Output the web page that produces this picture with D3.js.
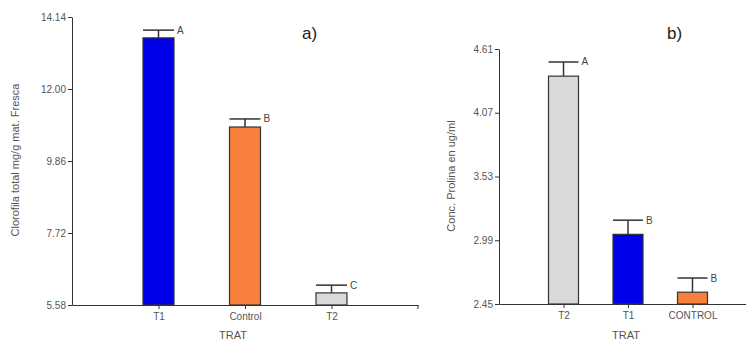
<!DOCTYPE html>
<html><head><meta charset="utf-8">
<script src="https://cdn.jsdelivr.net/npm/d3@7"></script>
<style>body{margin:0;background:#fff}svg{display:block;font-family:"Liberation Sans",Arial,sans-serif}</style>
</head><body><svg id="c" width="746" height="341"></svg>
<script>
// Panel a data
const catsA = ["T1", "Control", "T2"];
const valsA = [13.52, 10.87, 5.94];
const errA = [0.23, 0.24, 0.23];
const lettersA = ["A", "B", "C"];
const ticksA = [5.58, 7.72, 9.86, 12.00, 14.14];
const colorsA = ["#0000e8", "#f7803d", "#d9d9d9"];
// Panel b data
const catsB = ["T2", "T1", "CONTROL"];
const valsB = [4.38, 3.04, 2.55];
const errB = [0.12, 0.12, 0.12];
const lettersB = ["A", "B", "B"];
const ticksB = [2.45, 2.99, 3.53, 4.07, 4.61];
const colorsB = ["#d9d9d9", "#0000e8", "#f7803d"];

const svg = d3.select("#c");
const txt = "#555";

function panel(o) {
  const g = svg.append("g");
  const y = d3.scaleLinear().domain([o.ticks[0], o.ticks[o.ticks.length - 1]]).range([o.y0, o.y1]);
  const x = d3.scalePoint().domain(o.cats).range([o.x0, o.x1]).padding(1);
  // y axis
  const ya = g.append("g").attr("transform", `translate(${o.x0},0)`)
    .call(d3.axisLeft(y).tickValues(o.ticks).tickFormat(d3.format(".2f")).tickSize(4).tickSizeOuter(0).tickPadding(2));
  // x axis
  const xa = g.append("g").attr("transform", `translate(0,${o.y0})`)
    .call(d3.axisBottom(x).tickSize(4).tickSizeOuter(0).tickPadding(4));
  [ya, xa].forEach(a => {
    a.selectAll("path,line").attr("stroke", "#333").attr("stroke-width", 1);
    a.selectAll("text").attr("fill", txt).attr("font-size", 10);
  });
  if (o.endTick) {
    g.append("line").attr("x1", o.x1).attr("x2", o.x1).attr("y1", o.y0).attr("y2", o.y0 + 4).attr("stroke", "#333");
  }
  const bw = o.bw;
  const bars = g.append("g");
  o.cats.forEach((c, i) => {
    const cx = x(c);
    const top = y(o.vals[i]);
    const et = y(o.vals[i] + o.err[i]);
    bars.append("line").attr("x1", cx).attr("x2", cx).attr("y1", top).attr("y2", et).attr("stroke", "#333").attr("stroke-width", 1.5);
    bars.append("line").attr("x1", cx - bw / 2).attr("x2", cx + bw / 2).attr("y1", et).attr("y2", et).attr("stroke", "#333").attr("stroke-width", 1.5);
    bars.append("rect").attr("x", cx - bw / 2).attr("y", top).attr("width", bw).attr("height", o.y0 - top)
      .attr("fill", o.colors[i]).attr("stroke", "#333").attr("stroke-width", 1.2);
    bars.append("text").attr("x", cx + bw / 2 + 3).attr("y", et + 3.5).attr("font-size", 10).attr("fill", "#444").text(o.letters[i]);
  });
  // y label
  g.append("text").attr("transform", `translate(${o.ylx},${o.yly}) rotate(-90)`).attr("text-anchor", "middle")
    .attr("font-size", 11).attr("fill", txt).text(o.ylabel);
  // x label
  g.append("text").attr("x", o.xlx).attr("y", 339).attr("text-anchor", "middle").attr("font-size", 11).attr("fill", txt).text("TRAT");
  // panel tag
  g.append("text").attr("x", o.tagx).attr("y", 39).attr("font-size", 17).attr("fill", "#222").text(o.tag);
}

panel({cats: catsA, vals: valsA, err: errA, letters: lettersA, ticks: ticksA, colors: colorsA,
  x0: 72, x1: 418, y0: 305, y1: 17, bw: 31, endTick: true,
  ylabel: "Clorofila total mg/g mat. Fresca", ylx: 19, yly: 160, xlx: 233, tag: "a)", tagx: 302});
panel({cats: catsB, vals: valsB, err: errB, letters: lettersB, ticks: ticksB, colors: colorsB,
  x0: 499, x1: 757, y0: 304, y1: 49, bw: 30, endTick: false,
  ylabel: "Conc. Prolina en ug/ml", ylx: 455, yly: 176, xlx: 626, tag: "b)", tagx: 667});
</script></body></html>
